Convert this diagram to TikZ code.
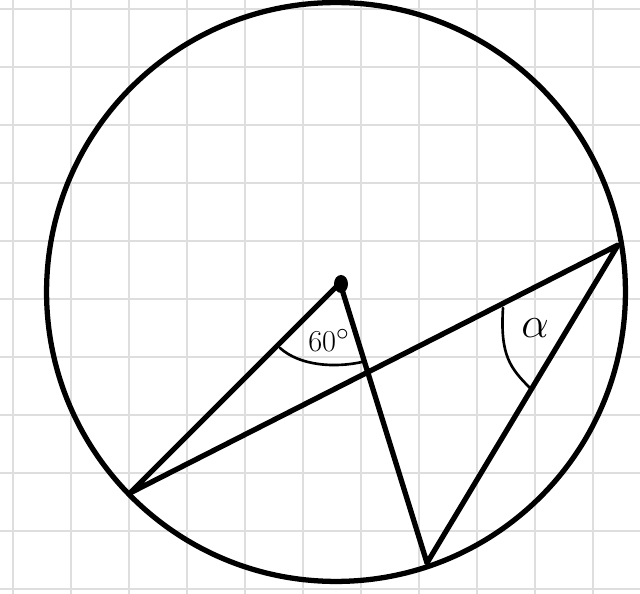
\documentclass[tikz,border=0pt]{standalone}
\usetikzlibrary{positioning, shapes.geometric}

\begin{document}
\begin{tikzpicture}[x=0.02cm, y=-0.02cm,
    gridline/.style={draw=black!13, line width=0.8pt},
    pen/.style={draw=black, line width=3pt, line cap=round, line join=round},
    thinpen/.style={draw=black, line width=1.5pt, line cap=round},
    centredot/.style={ellipse, fill=black, inner sep=0pt, minimum width=0.28cm, minimum height=0.36cm},
    hand/.style={font=\fontsize{19}{22}\selectfont}]
  \useasboundingbox (0,0) rectangle (640,594);
  \foreach \gx in {13,71,...,593}
    \draw[gridline] (\gx,0) -- (\gx,594);
  \foreach \gy in {9,67,...,589}
    \draw[gridline] (0,\gy) -- (640,\gy);
  \coordinate (M) at (336,292);
  \coordinate (O) at (340,283);
  \node[centredot] (dot) at (341,284) {};
  \coordinate (A) at (130,493);
  \coordinate (B) at (618,245);
  \coordinate (C) at (427,563);
  \draw[pen] (M) circle [radius=5.79cm];
  \draw[pen] (O) -- (A) -- (B) -- (C) -- (O);
  \coordinate (a1) at (280,348);
  \coordinate (a2) at (362,362);
  \draw[thinpen] (a1) .. controls (300,366) and (335,368) .. (a2);
  \node[hand] (sixty) at (329,340) {$60^{\circ}$};
  \coordinate (b1) at (503,308);
  \coordinate (b2) at (530,388);
  \draw[thinpen] (b1) .. controls (500,355) and (510,368) .. (b2);
  \node[hand, font=\fontsize{27}{30}\selectfont] (alpha) at (535,328) {$\alpha$};
\end{tikzpicture}
\end{document}
